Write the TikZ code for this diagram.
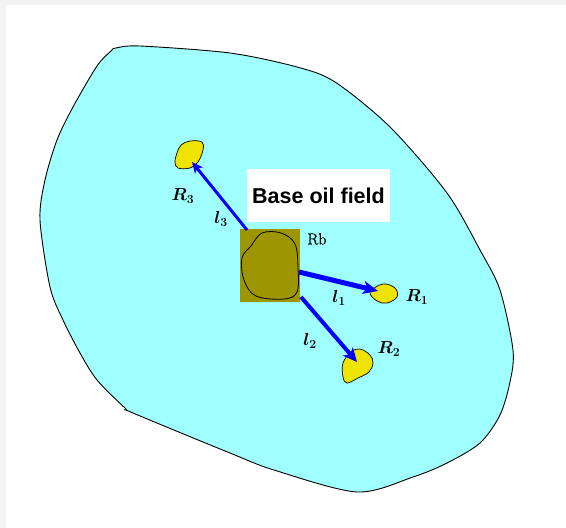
\documentclass[tikz,border=0pt]{standalone}
\usepackage{fix-cm}
\usepackage{fontspec}
\newfontfamily\arialfont{Liberation Sans}
\newfontfamily\rbfont[FakeBold=1.2]{Latin Modern Roman}
\usetikzlibrary{arrows.meta}
\definecolor{field}{RGB}{160,255,255}
\definecolor{oil}{RGB}{238,228,0}
\definecolor{basecol}{RGB}{158,150,0}
\definecolor{bgray}{RGB}{243,243,243}
\definecolor{arrowblue}{RGB}{0,0,255}
\begin{document}
\begin{tikzpicture}[x=1pt,y=-1pt,
  blob/.style={draw=black, line width=0.7pt, fill=oil},
  link/.style={draw=arrowblue, line width=#1},
  lbl/.style={inner sep=0pt, font=\fontsize{17.5}{21}\selectfont\boldmath},
  rlbl/.style={inner sep=0pt, font=\rbfont\fontsize{16}{18}\selectfont}]
\useasboundingbox (0,0) rectangle (566,528);
\fill[bgray] (0,0) rectangle (566,528);
\fill[white] (6,5) rectangle (566,528);
% field outline
\draw[fill=field, line width=0.9pt] plot[smooth cycle, tension=0.5] coordinates {
 (111,51) (116,48) (140,46) (230,53) (297,67) (335,82) (390,127) (447,193) (480,250)
 (500,290) (513,350) (510,382) (500,415) (480,443) (447,463) (413,477) (357,492)
 (274,470) (230,453) (133,413) (125,408) (97,380) (80,353) (63,320) (50,287) (40,220)
 (45,180) (57,140) (73,107) (97,66)};
% reservoirs
\draw[blob] plot[smooth cycle, tension=0.6] coordinates {
 (181,145) (190,141) (202,142) (203,150) (198,162) (190,168) (178,168) (175,162) (177,153)};
\draw[blob] plot[smooth cycle, tension=0.6] coordinates {
 (370,292) (383,284) (395,288) (397,297) (387,303) (377,301)};
\draw[blob] plot[smooth cycle, tension=0.6] coordinates {
 (343,363) (351,352) (360,349) (370,355) (373,363) (369,372) (358,378) (347,383) (343,377)};
% base field
\node[fill=basecol, minimum width=60pt, minimum height=73pt, inner sep=0pt] (base) at (270,265.5) {};
\draw[line width=0.8pt] plot[smooth cycle, tension=0.6] coordinates {
 (262,233) (281,233) (295,244) (298,268) (297,292) (284,299) (256,296) (244,280) (242,258) (251,246)};
% title
\node[fill=white, minimum width=143pt, minimum height=53pt, inner sep=0pt,
      font=\arialfont\bfseries\fontsize{21.5}{24}\selectfont] (title) at (318.5,195.5) {Base oil field};
% arrows
\coordinate (s1) at (299,272); \coordinate (t1) at (378,291);
\coordinate (s2) at (301,297); \coordinate (t2) at (357,362);
\coordinate (s3) at (247,230); \coordinate (t3) at (192,162);
\draw[link=5pt, -{Stealth[length=15pt, width=13pt, inset=4pt]}] (s1) -- (t1);
\draw[link=4pt, -{Stealth[length=14pt, width=13pt, inset=4pt]}] (s2) -- (t2);
\draw[link=3pt, -{Stealth[length=11pt, width=10pt, inset=3pt]}] (s3) -- (t3);
% labels
\node[lbl] (r3) at (183,196) {$R_3$};
\node[lbl] (l3) at (221,219) {$l_3$};
\node[rlbl] (rb) at (317,239) {Rb};
\node[lbl] (l1) at (339,298) {$l_1$};
\node[lbl] (r1) at (417,297) {$R_1$};
\node[lbl] (l2) at (310,341) {$l_2$};
\node[lbl] (r2) at (389,349) {$R_2$};
\end{tikzpicture}
\end{document}
